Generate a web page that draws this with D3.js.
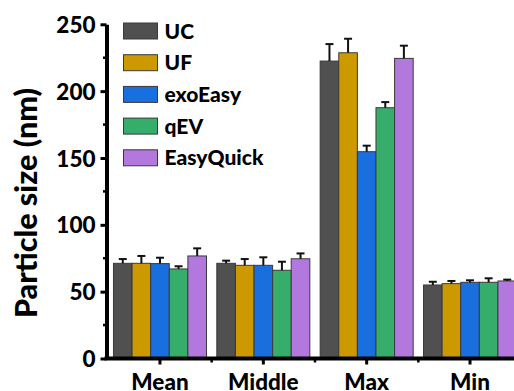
<!DOCTYPE html>
<html>
<head>
<meta charset="utf-8">
<script src="https://cdn.jsdelivr.net/npm/d3@7/dist/d3.min.js"></script>
<style>
  html, body { margin: 0; padding: 0; background: #fff; }
  svg { display: block; font-family: Lato, "Open Sans", sans-serif; font-weight: 900; }
</style>
</head>
<body>
<svg id="chart" width="514" height="391"></svg>
<script>
// Particle size statistics per isolation method
const categories = ["Mean", "Middle", "Max", "Min"];
const methods = ["UC", "UF", "exoEasy", "qEV", "EasyQuick"];
const colors = ["#505050", "#CC9900", "#1A6FDF", "#37AD6B", "#B278DE"];

// values[method][category]
const UC        = [71.2, 71.2, 222.5, 55.0];
const UF        = [71.2, 69.7, 228.7, 56.0];
const exoEasy   = [71.0, 69.7, 154.7, 57.0];
const qEV       = [67.0, 66.0, 187.6, 57.0];
const EasyQuick = [76.7, 74.6, 224.5, 58.0];

// standard deviations (upper error bars)
const UC_sd        = [3.2, 2.0, 12.7, 2.4];
const UF_sd        = [5.5, 4.7, 10.5, 2.0];
const exoEasy_sd   = [4.4, 6.0, 4.5, 1.5];
const qEV_sd       = [2.0, 6.4, 4.2, 3.0];
const EasyQuick_sd = [5.7, 4.0, 9.5, 1.0];

const yTicks = [0, 50, 100, 150, 200, 250];
const yMinor = [25, 75, 125, 175, 225];
const yTitle = "Particle size (nm)";

const series = [UC, UF, exoEasy, qEV, EasyQuick];
const sds = [UC_sd, UF_sd, exoEasy_sd, qEV_sd, EasyQuick_sd];

const svg = d3.select("#chart");

const y = d3.scaleLinear().domain([0, 250]).range([358.5, 24.3]);
const x0 = d3.scaleBand().domain(categories).range([108.3, 521.7])
  .paddingInner(0.1).paddingOuter(0.05);
const x1 = d3.scaleBand().domain(methods).range([0, x0.bandwidth()]);

const rows = [];
categories.forEach((c, ci) => {
  methods.forEach((m, mi) => {
    rows.push({ cat: c, method: m, color: colors[mi], value: series[mi][ci], sd: sds[mi][ci] });
  });
});

// bars
const bars = svg.append("g");
bars.selectAll("rect").data(rows).join("rect")
  .attr("x", d => x0(d.cat) + x1(d.method))
  .attr("y", d => y(d.value))
  .attr("width", x1.bandwidth())
  .attr("height", d => y(0) - y(d.value))
  .attr("fill", d => d.color)
  .attr("stroke", "#3a3a3a")
  .attr("stroke-width", 1);

// upper error bars
const err = svg.append("g").attr("stroke", "#111").attr("stroke-width", 2).attr("fill", "none");
rows.forEach(d => {
  const cx = x0(d.cat) + x1(d.method) + x1.bandwidth() / 2;
  err.append("line").attr("x1", cx).attr("x2", cx).attr("y1", y(d.value)).attr("y2", y(d.value + d.sd));
  err.append("line").attr("x1", cx - 4).attr("x2", cx + 4).attr("y1", y(d.value + d.sd)).attr("y2", y(d.value + d.sd));
});

// y axis
const yAxis = svg.append("g").attr("transform", "translate(106.5,0)")
  .call(d3.axisLeft(y).tickValues(yTicks).tickSize(6).tickSizeOuter(0).tickPadding(5));
yAxis.select(".domain").attr("stroke", "#000").attr("stroke-width", 4);
yAxis.selectAll(".tick line").attr("stroke", "#000").attr("stroke-width", 3);
yAxis.selectAll(".tick text").attr("font-size", 22.5).attr("font-weight", 900)
  .attr("font-family", "Lato, sans-serif").attr("fill", "#000").attr("dy", "0.36em");
svg.append("g").selectAll("line").data(yMinor).join("line")
  .attr("x1", 103).attr("x2", 106).attr("y1", d => y(d)).attr("y2", d => y(d))
  .attr("stroke", "#000").attr("stroke-width", 2.5);

// x axis
const xAxis = svg.append("g").attr("transform", `translate(0,${y(0)})`)
  .call(d3.axisBottom(x0).tickSize(6).tickSizeOuter(0).tickPadding(10));
xAxis.select(".domain").attr("stroke", "#000").attr("stroke-width", 4)
  .attr("d", "M104.5,0H514");
xAxis.selectAll(".tick line").attr("stroke", "#000").attr("stroke-width", 3);
xAxis.selectAll(".tick text").attr("font-size", 22.5).attr("font-weight", 900)
  .attr("font-family", "Lato, sans-serif").attr("fill", "#000");
const xMinor = categories.slice(1).map(c => x0(c) - x0.step() * x0.paddingInner() / 2);
svg.append("g").selectAll("line").data(xMinor).join("line")
  .attr("x1", d => d).attr("x2", d => d).attr("y1", y(0)).attr("y2", y(0) + 4)
  .attr("stroke", "#000").attr("stroke-width", 2.5);

// y title
svg.append("text")
  .attr("transform", "translate(37,203) rotate(-90)")
  .attr("text-anchor", "middle")
  .attr("font-size", 30.5)
  .attr("fill", "#000")
  .text(yTitle);

// legend
const legend = svg.append("g").attr("transform", "translate(123.5,23)");
const items = legend.selectAll("g").data(methods).join("g")
  .attr("transform", (d, i) => `translate(0,${i * 31.7})`);
items.append("rect").attr("width", 34).attr("height", 16)
  .attr("fill", (d, i) => colors[i]).attr("stroke", "#3a3a3a").attr("stroke-width", 1);
items.append("text").attr("x", 41).attr("y", 8).attr("dy", "0.36em")
  .attr("font-size", 21).attr("fill", "#000").text(d => d);
</script>
</body>
</html>
